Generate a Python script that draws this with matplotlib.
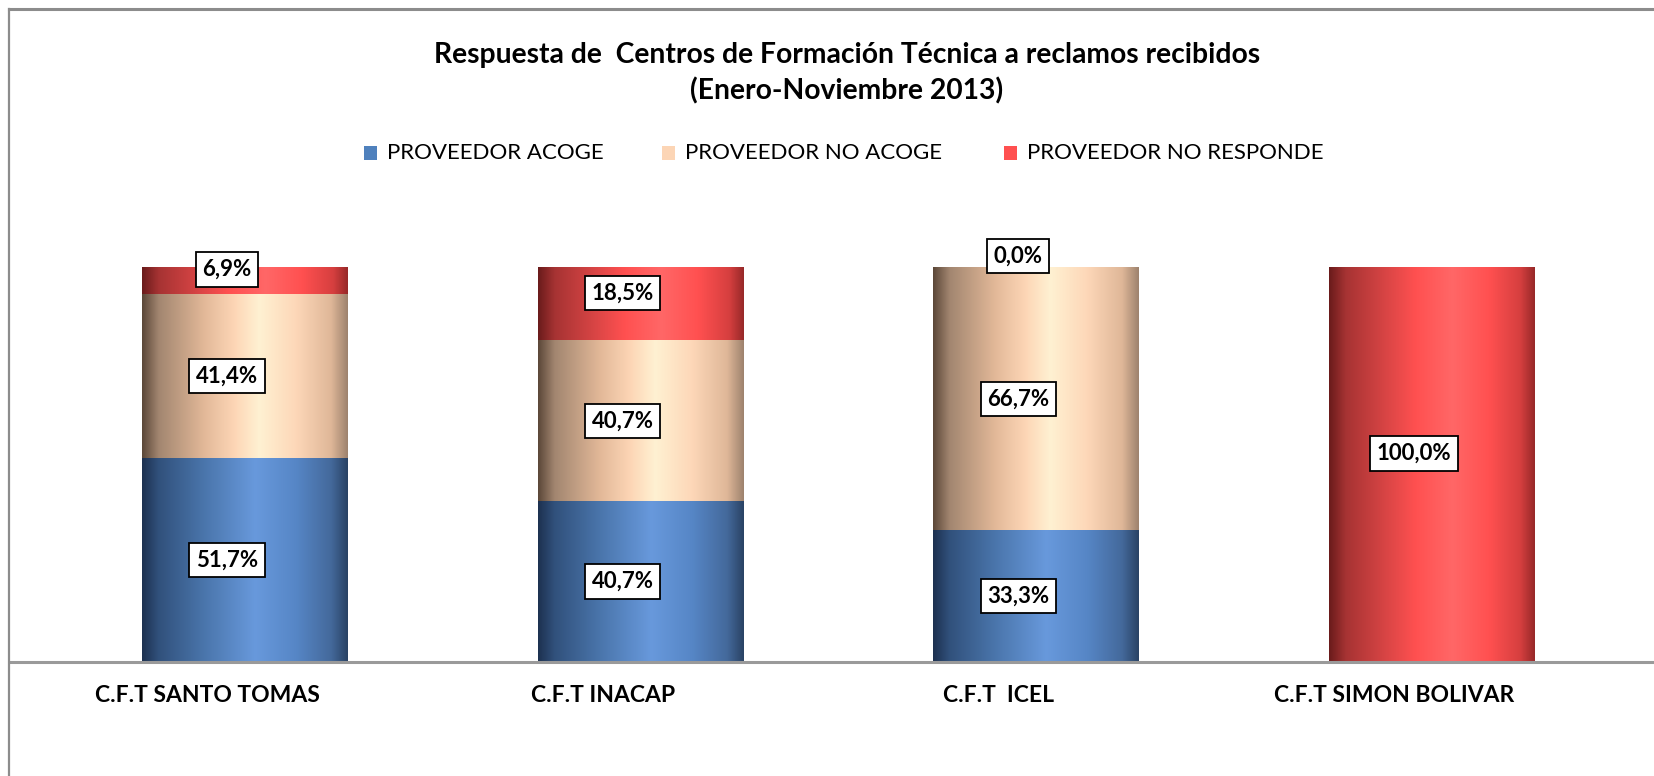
import numpy as np
import matplotlib
matplotlib.use("Agg")
import matplotlib.pyplot as plt
from matplotlib.colors import LinearSegmentedColormap
from matplotlib.patches import Rectangle
from matplotlib.lines import Line2D
import matplotlib.transforms as mtransforms

# ---------------- data ----------------
categories = ["C.F.T SANTO TOMAS", "C.F.T INACAP", "C.F.T  ICEL", "C.F.T SIMON BOLIVAR"]
series_names = ["PROVEEDOR ACOGE", "PROVEEDOR NO ACOGE", "PROVEEDOR NO RESPONDE"]
acoge = [51.7, 40.7, 33.3, 0.0]
no_acoge = [41.4, 40.7, 66.7, 0.0]
no_responde = [6.9, 18.5, 0.0, 100.0]
# which labels are shown (matches the reference)
show_acoge = [True, True, True, False]
show_no_acoge = [True, True, True, False]
show_no_responde = [True, True, True, True]

title_lines = ["Respuesta de  Centros de Formación Técnica a reclamos recibidos",
               "(Enero-Noviembre 2013)"]

FONT = ["Lato", "DejaVu Sans"]
plt.rcParams["font.family"] = FONT

W, H = 1654, 776
fig = plt.figure(figsize=(W / 100, H / 100), dpi=100)
fig.patch.set_facecolor("white")

def fx(px):
    return px / W

def fy(py):
    return 1 - py / H

# plot axes: bottom at y=662, top (100%) at y=267
ax = fig.add_axes([fx(10), fy(662), fx(W - 10), (662 - 267) / H])
ax.axis("off")

blue_cmap = LinearSegmentedColormap.from_list("b", [
    (0.0, "#1d3150"), (0.08, "#31517c"), (0.3, "#4a75ab"), (0.55, "#6899dc"),
    (0.75, "#5686c6"), (0.92, "#44699b"), (1.0, "#2a4365")])
peach_cmap = LinearSegmentedColormap.from_list("p", [
    (0.0, "#5c4839"), (0.08, "#a28670"), (0.3, "#e2b898"), (0.45, "#fdd6b6"),
    (0.57, "#fff1d2"), (0.75, "#fdd7b8"), (0.92, "#dfb798"), (1.0, "#9e836e")])
red_cmap = LinearSegmentedColormap.from_list("r", [
    (0.0, "#6a1b1b"), (0.08, "#a63333"), (0.3, "#df4747"), (0.42, "#ff5050"),
    (0.6, "#ff6767"), (0.78, "#ff5050"), (0.93, "#d63f3f"), (1.0, "#982929")])

grad = np.linspace(0, 1, 256).reshape(1, -1)
bar_w = 0.52
x = np.arange(len(categories))

def draw_series(vals, bottoms, cmap):
    for xi, v, b in zip(x, vals, bottoms):
        if v <= 0:
            continue
        ax.imshow(grad, cmap=cmap, aspect="auto", interpolation="bilinear",
                  extent=(xi - bar_w / 2, xi + bar_w / 2, b, b + v), zorder=2)

b0 = np.zeros(len(x))
b1 = b0 + np.array(acoge)
b2 = b1 + np.array(no_acoge)
draw_series(acoge, b0, blue_cmap)
draw_series(no_acoge, b1, peach_cmap)
draw_series(no_responde, b2, red_cmap)
ax.set_xlim(-0.594, 3.561)
ax.set_ylim(0, 100)

def fmt(v):
    return f"{v:.1f}%".replace(".", ",")

def label_series(vals, bottoms, show, dy):
    for xi, v, b, s in zip(x, vals, bottoms, show):
        if not s:
            continue
        ax.annotate(fmt(v), xy=(xi, b + v / 2), xytext=(-13, dy),
                    textcoords="offset points", ha="center", va="center",
                    fontsize=16, fontweight="bold", color="black", zorder=5,
                    bbox=dict(boxstyle="square,pad=0.3", fc="white", ec="black", lw=1.3))

label_series(acoge, b0, show_acoge, 0)
label_series(no_acoge, b1, show_no_acoge, 0)
label_series(no_responde, b2, show_no_responde, 8)

# axis line
fig.add_artist(Line2D([fx(11), 1.0], [fy(662), fy(662)], color="#9a9a9a", lw=2.2))

# category labels (shifted as in the reference)
tr = ax.transData + mtransforms.ScaledTranslation(-0.38, -0.34, fig.dpi_scale_trans)
for xi, c in zip(x, categories):
    ax.text(xi, 0, c, transform=tr, ha="center", va="center", fontsize=16.5,
            fontweight="bold", clip_on=False)

# frame border
fig.add_artist(Line2D([fx(8.5), 1.0], [fy(8.5), fy(8.5)], color="#8c8c8c", lw=2.2))
fig.add_artist(Line2D([fx(8.5), fx(8.5)], [fy(8.5), 0.0], color="#8c8c8c", lw=1.6))

# title
fig.text(fx(847), fy(55), title_lines[0], ha="center", va="center", fontsize=20.3, fontweight="bold")
fig.text(fx(847), fy(91), title_lines[1], ha="center", va="center", fontsize=20.3, fontweight="bold")

# legend (manual)
legend_colors = ["#4f81bd", "#fcd5b5", "#ff5050"]
sq_x = [364, 662, 1004]
for name, col, sx in zip(series_names, legend_colors, sq_x):
    fig.add_artist(Rectangle((fx(sx), fy(160)), fx(13), 14 / H, transform=fig.transFigure,
                             fc=col, ec="none"))
    fig.text(fx(sx + 23), fy(153), name, ha="left", va="center", fontsize=16)

fig.savefig("out.png", dpi=100, facecolor="white")
